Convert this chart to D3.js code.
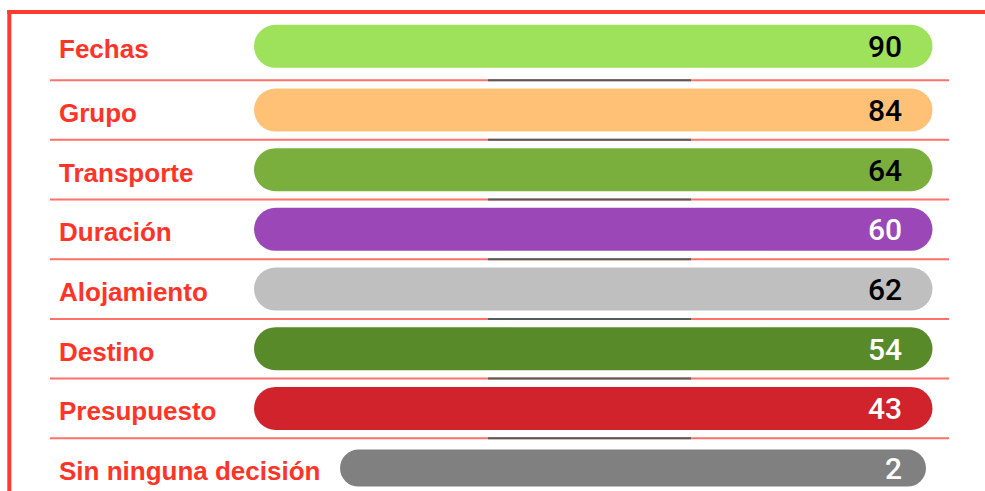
<!DOCTYPE html>
<html>
<head>
<meta charset="utf-8">
<script src="https://cdn.jsdelivr.net/npm/d3@7"></script>
<style>
  html, body { margin: 0; padding: 0; background: #ffffff; }
  svg { display: block; }
</style>
</head>
<body>
<svg id="chart" width="985" height="491"></svg>
<script>
const categories = ["Fechas", "Grupo", "Transporte", "Duración", "Alojamiento", "Destino", "Presupuesto", "Sin ninguna decisión"];
const values = [90, 84, 64, 60, 62, 54, 43, 2];
const barColors = ["#9ee15b", "#ffc176", "#7aae3d", "#9b47b8", "#bfbfbf", "#588a29", "#d0232c", "#808080"];
const valueColors = ["#000000", "#000000", "#000000", "#ffffff", "#000000", "#ffffff", "#ffffff", "#ffffff"];

const svg = d3.select("#chart");
const W = 985, H = 491;

// Frame (red border on left and top)
svg.append("line").attr("x1", 7.3).attr("x2", W).attr("y1", 12).attr("y2", 12)
  .attr("stroke", "#ff3a2f").attr("stroke-width", 4);
svg.append("line").attr("x1", 9.3).attr("x2", 9.3).attr("y1", 10).attr("y2", H)
  .attr("stroke", "#ff3a2f").attr("stroke-width", 4);

const y = d3.scaleBand().domain(categories).range([20.5, 497.9]).padding(0);
const rows = categories.map((c, i) => ({ cat: c, value: values[i], color: barColors[i], tcolor: valueColors[i], i }));

// separators
const seps = rows.slice(0, rows.length - 1);
svg.selectAll("line.sep").data(seps).enter().append("line")
  .attr("class", "sep")
  .attr("x1", 50).attr("x2", 949)
  .attr("y1", d => y(d.cat) + y.bandwidth())
  .attr("y2", d => y(d.cat) + y.bandwidth())
  .attr("stroke", "#ff716a").attr("stroke-width", 2);
svg.selectAll("line.sepdark").data(seps).enter().append("line")
  .attr("class", "sepdark")
  .attr("x1", 488).attr("x2", 691)
  .attr("y1", d => y(d.cat) + y.bandwidth())
  .attr("y2", d => y(d.cat) + y.bandwidth())
  .attr("stroke", "#555a5a").attr("stroke-width", 2);

const center = d => y(d.cat) + y.bandwidth() / 2 + (d.i === 0 ? -4 : 0);
const last = categories.length - 1;
const barH = d => d.i === last ? 37 : 43;
const barX0 = d => d.i === last ? 340 : 254;
const barX1 = d => d.i === last ? 926 : 932.5;

svg.selectAll("rect.bar").data(rows).enter().append("rect")
  .attr("class", "bar")
  .attr("x", barX0)
  .attr("y", d => center(d) - barH(d) / 2)
  .attr("width", d => barX1(d) - barX0(d))
  .attr("height", barH)
  .attr("rx", d => barH(d) / 2)
  .attr("fill", d => d.color);

svg.selectAll("text.label").data(rows).enter().append("text")
  .attr("class", "label")
  .attr("x", 59)
  .attr("y", d => center(d) + 12)
  .attr("font-family", "'Liberation Sans', Arial, sans-serif")
  .attr("font-weight", "bold")
  .attr("font-size", "26px")
  .attr("fill", "#ff3327")
  .text(d => d.cat);

svg.selectAll("text.value").data(rows).enter().append("text")
  .attr("class", "value")
  .attr("x", 902)
  .attr("y", d => center(d) + 11)
  .attr("text-anchor", "end")
  .attr("font-family", "Roboto, 'Liberation Sans', sans-serif")
  .attr("font-weight", 500)
  .attr("font-size", "30px")
  .attr("fill", d => d.tcolor)
  .text(d => d.value);
</script>
</body>
</html>
